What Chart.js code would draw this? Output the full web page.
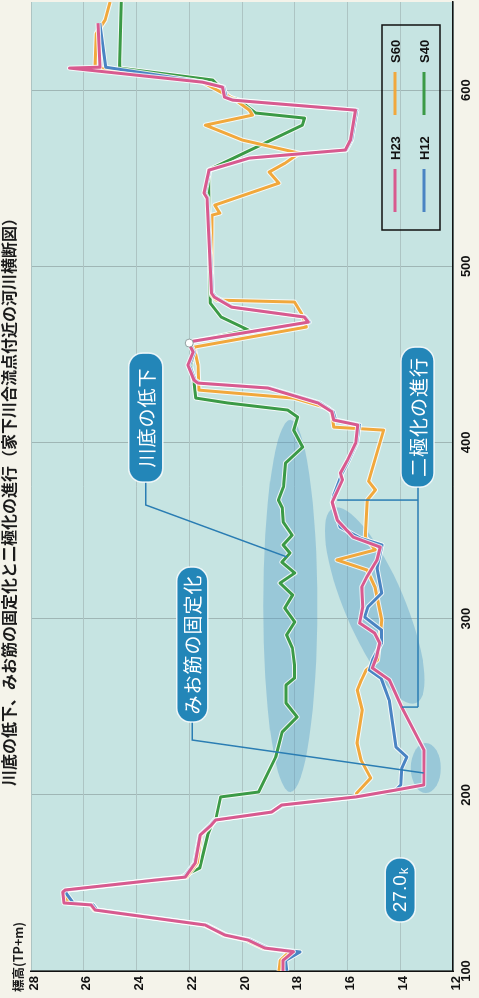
<!DOCTYPE html>
<html lang="ja">
<head>
<meta charset="utf-8">
<title>河川横断図</title>
<script src="https://cdn.jsdelivr.net/npm/chart.js@4.4.1/dist/chart.umd.min.js"></script>
<style>
  html, body { margin: 0; padding: 0; background: #f4f3ea; overflow: hidden; }
  body { width: 479px; height: 998px; position: relative; }
  /* the section is laid out landscape and turned a quarter turn to sit in the portrait page */
  #frame {
    position: absolute; left: 0; top: 0;
    width: 998px; height: 479px;
    transform-origin: 0 0;
    transform: translate(0, 998px) rotate(-90deg);
  }
</style>
</head>
<body>
<div id="frame"><canvas id="section-chart" width="998" height="479"></canvas></div>
<script>
const TITLE = '川底の低下、みお筋の固定化と二極化の進行（家下川合流点付近の河川横断図）';
const Y_LABEL = '標高(TP+m)';

const DIST_TICKS = [100, 200, 300, 400, 500, 600];
const ELEV_TICKS = [12, 14, 16, 18, 20, 22, 24, 26, 28];

// distance from left bank (m) / bed elevation (TP+m)
const h23Dist = [100, 106, 111, 113, 117.6, 120.4, 124.4, 126.1, 134.6, 137.5, 138.6, 144.8, 146, 151.6, 153.3, 161.3, 177.2, 182.9, 185.7, 190.2, 194.2, 198.8, 202.7, 205.6, 225.4, 249.3, 265.2, 272, 278.2, 286.2, 291.8, 297.5, 306.6, 318, 323.6, 333.3, 340.6, 346.3, 356, 366, 378.7, 382.6, 390, 399.7, 409.9, 412.7, 417.5, 422.4, 430.9, 433.7, 435.4, 443.9, 451.3, 457, 468.3, 471.2, 476.8, 482.5, 484.8, 538.7, 541.5, 554.6, 561.4, 566, 571.6, 588.6, 594.3, 596, 601.7, 604.5, 612.5, 613, 638];
const h23Elev = [18.45, 18.45, 18.05, 19.13, 19.78, 20.65, 21.18, 21.4, 25.57, 25.72, 26.75, 26.8, 26.7, 23.29, 22.15, 21.77, 21.58, 21.16, 21.0, 18.88, 18.5, 15.69, 14.17, 13.11, 13.1, 13.93, 14.41, 15.06, 14.9, 14.78, 14.97, 15.54, 15.42, 15.46, 15.27, 14.88, 14.76, 15.79, 16.39, 16.58, 16.19, 16.27, 16.0, 15.69, 15.61, 16.52, 16.6, 17.12, 19.02, 21.67, 21.82, 22.05, 21.85, 22.04, 17.49, 17.64, 20.4, 21.05, 21.16, 21.33, 21.44, 21.25, 19.73, 16.08, 15.89, 15.7, 20.36, 20.66, 20.74, 21.5, 26.54, 25.38, 25.46];

const h12Dist = [100, 106, 110.8, 113, 117.6, 120.4, 124.4, 126.1, 134.6, 137.5, 138.6, 144.8, 146, 151.6, 153.3, 161.3, 177.2, 182.9, 185.7, 190.2, 194.2, 198.8, 202.7, 205.6, 215.2, 221.5, 227.1, 253.8, 266, 270.8, 276.5, 286.2, 293.5, 300.9, 306.6, 314.5, 328.7, 341.8, 345.7, 352, 366, 371, 382.6, 390, 399.7, 409.9, 412.7, 417.5, 422.4, 430.9, 433.7, 435.4, 443.9, 451.3, 457, 468.3, 471.2, 476.8, 482.5, 484.8, 538.7, 541.5, 554.6, 561.4, 566, 571.6, 588.6, 594.3, 596, 601.7, 604.5, 613, 638];
const h12Elev = [18.3, 18.35, 17.8, 19.05, 19.7, 20.6, 21.15, 21.35, 25.5, 25.65, 26.4, 26.7, 26.6, 23.35, 22.2, 21.8, 21.6, 21.2, 21.05, 18.9, 18.45, 15.65, 14.17, 13.98, 13.94, 13.75, 14.16, 14.42, 14.72, 15.17, 15.05, 14.71, 14.71, 15.35, 15.23, 14.7, 14.88, 14.69, 15.52, 16.28, 16.58, 16.5, 16.2, 15.95, 15.65, 15.55, 16.45, 16.55, 17.05, 18.95, 21.6, 21.78, 22.0, 21.8, 22.0, 17.45, 17.6, 20.35, 21.0, 21.12, 21.3, 21.4, 21.22, 19.7, 16.05, 15.85, 15.65, 20.3, 20.6, 20.7, 21.45, 25.17, 25.39];

const s60Dist = [100, 106, 111, 113, 117.6, 120.4, 124.4, 126.1, 134.6, 137.5, 138.6, 144.8, 146, 151.6, 153.3, 161.3, 177.2, 182.9, 185.7, 190.2, 194.2, 198.8, 201, 209.5, 219.7, 229.4, 248.1, 259.5, 265.2, 270.8, 276.5, 287.9, 299.2, 318, 327.6, 333.3, 339, 346.3, 367.3, 373, 378, 407, 408.7, 417, 419.5, 425.2, 429.7, 443.9, 454.1, 465.5, 473.4, 479.7, 480.8, 483.7, 529, 530.2, 534.7, 547.2, 553.5, 558.6, 564.2, 571.6, 580.1, 585.8, 588.6, 594.3, 604.5, 613, 632, 639.7, 650];
const s60Elev = [18.6, 18.55, 18.2, 19.2, 19.85, 20.7, 21.2, 21.45, 25.6, 25.75, 26.6, 26.7, 26.6, 23.2, 22.1, 21.7, 21.55, 21.15, 21.0, 18.85, 18.5, 15.69, 15.65, 15.12, 15.49, 15.64, 15.44, 15.63, 15.47, 15.29, 14.86, 14.78, 14.7, 14.96, 15.26, 16.4, 14.95, 15.33, 15.25, 14.94, 15.2, 14.63, 16.52, 16.6, 16.74, 18.04, 21.63, 21.67, 21.82, 17.56, 17.75, 18.01, 20.97, 21.16, 21.14, 20.84, 21.03, 18.6, 18.97, 18.36, 17.83, 19.98, 21.39, 19.6, 19.72, 20.24, 21.5, 25.57, 25.53, 25.19, 25.0];

const s40Dist = [100, 106, 111, 113, 117.6, 120.4, 124.4, 126.1, 134.6, 137.5, 138.6, 144.8, 146, 151.6, 153.3, 158.5, 177.2, 182.9, 185.7, 198.8, 201.6, 221.5, 235.6, 244.2, 252.1, 262.3, 266.3, 273.7, 283.3, 290.7, 298.1, 306, 313.4, 320.2, 325.9, 332.1, 337.2, 341.8, 347.4, 354.8, 362.8, 367.3, 374.7, 388.3, 397.4, 407, 414.4, 418.4, 422.4, 425.2, 434.3, 443.9, 451.3, 457, 463.8, 471.2, 479, 554.6, 580.1, 584.1, 587, 594.3, 596, 605.7, 612.5, 650];
const s40Elev = [18.5, 18.5, 18.1, 19.1, 19.75, 20.6, 21.1, 21.35, 25.5, 25.65, 26.6, 26.7, 26.6, 23.4, 22.3, 21.6, 21.3, 21.15, 21.0, 20.81, 19.37, 18.72, 18.48, 17.91, 18.33, 18.33, 18.01, 18.01, 18.09, 18.31, 18.0, 18.38, 18.08, 18.56, 18.0, 18.49, 18.18, 18.44, 18.1, 18.44, 18.47, 18.62, 18.43, 18.35, 17.7, 18.04, 17.89, 18.27, 20.54, 21.75, 21.82, 21.95, 21.8, 21.95, 19.76, 20.79, 21.2, 21.27, 17.71, 17.63, 19.49, 20.1, 20.47, 21.11, 24.64, 24.58];

const SERIES = [
  { label: 'H23', dist: h23Dist, elev: h23Elev, color: '#d85a8f' },
  { label: 'H12', dist: h12Dist, elev: h12Elev, color: '#4a84c3' },
  { label: 'S60', dist: s60Dist, elev: s60Elev, color: '#f1a83c' },
  { label: 'S40', dist: s40Dist, elev: s40Elev, color: '#3b9a46' },
];

// legend cells: column, row
const LEGEND_CELLS = [
  { label: 'H23', col: 0, row: 0 },
  { label: 'S60', col: 1, row: 0 },
  { label: 'H12', col: 0, row: 1 },
  { label: 'S40', col: 1, row: 1 },
];

// callout boxes, anchored in (distance, elevation)
const CALLOUTS = [
  { text: '川底の低下', at: [414.1, 23.65], w: 129, h: 34 },
  { text: 'みお筋の固定化', at: [285.3, 21.89], w: 155, h: 31 },
  { text: '二極化の進行', at: [414.4, 13.35], w: 140, h: 33 },
  { text: '27.0', sub: 'k', at: [146, 14.0], w: 64, h: 30 },
];

const LEADERS = [
  [[377.5, 23.65], [364.5, 23.65], [335, 18.29]],
  [[241.3, 21.89], [231.1, 21.89], [212.4, 13.11]],
  [[377.5, 13.33], [249.8, 13.33]],
  [[367.3, 13.33], [367.3, 16.39]],
  [[249.8, 13.33], [249.8, 13.93]],
];

// survey mark on the left terrace
const MARK = [456.4, 22.0];

// shaded zones: major axis ends in data units, half minor axis in px
const ZONES = [
  { from: [412.8, 18.17], to: [201.6, 18.17], half: 27 },
  { from: [362.8, 16.54], to: [252.1, 13.4], half: 30 },
  { from: [229.4, 13.03], to: [201, 13.03], half: 15 },
];

const PLOT_BG = '#c6e4e2';
const NOTE_BLUE = '#2386b8';
const CJK = '"Noto Sans CJK JP", "Noto Sans", sans-serif';

Chart.defaults.font.family = '"Liberation Sans", Arial, sans-serif';
Chart.defaults.color = '#111';

function toPx(chart, d, e) {
  return [chart.scales.x.getPixelForValue(d), chart.scales.y.getPixelForValue(e)];
}

function clipToArea(chart) {
  const a = chart.chartArea;
  chart.ctx.beginPath();
  chart.ctx.rect(a.left, a.top, a.right - a.left, a.bottom - a.top);
  chart.ctx.clip();
}

const backdropPlugin = {
  id: 'backdrop',
  beforeDraw(chart) {
    const { ctx, chartArea: a } = chart;
    ctx.save();
    ctx.fillStyle = PLOT_BG;
    ctx.fillRect(a.left, a.top, a.right - a.left, a.bottom - a.top);

    ctx.fillStyle = '#1b1b1b';
    ctx.textBaseline = 'middle';
    ctx.textAlign = 'center';
    ctx.font = 'bold 16px ' + CJK;
    ctx.fillText(TITLE, 500, 9);
    ctx.textAlign = 'left';
    ctx.font = 'bold 12.5px ' + CJK;
    ctx.fillText(Y_LABEL, 6, 18);
    ctx.restore();
  },
  beforeDatasetsDraw(chart) {
    const ctx = chart.ctx;
    ctx.save();
    clipToArea(chart);
    ctx.fillStyle = 'rgba(74, 150, 200, 0.36)';
    ZONES.forEach((z) => {
      const [x1, y1] = toPx(chart, z.from[0], z.from[1]);
      const [x2, y2] = toPx(chart, z.to[0], z.to[1]);
      const rx = Math.hypot(x2 - x1, y2 - y1) / 2;
      ctx.beginPath();
      ctx.ellipse((x1 + x2) / 2, (y1 + y2) / 2, rx, z.half, Math.atan2(y2 - y1, x2 - x1), 0, Math.PI * 2);
      ctx.fill();
    });
    ctx.restore();
  },
};

// thin white casing under every section line
const casingPlugin = {
  id: 'casing',
  beforeDatasetDraw(chart, args) {
    const ctx = chart.ctx;
    const pts = args.meta.data;
    ctx.save();
    clipToArea(chart);
    ctx.strokeStyle = 'rgba(255, 255, 255, 0.8)';
    ctx.lineWidth = 5;
    ctx.lineJoin = 'round';
    ctx.beginPath();
    pts.forEach((p, i) => (i ? ctx.lineTo(p.x, p.y) : ctx.moveTo(p.x, p.y)));
    ctx.stroke();
    ctx.restore();
  },
};

function drawPill(ctx, x, y, w, h) {
  ctx.beginPath();
  ctx.roundRect(x - w / 2, y - h / 2, w, h, Math.min(14, h / 2));
  ctx.fillStyle = NOTE_BLUE;
  ctx.fill();
  ctx.lineWidth = 1.5;
  ctx.strokeStyle = 'rgba(255, 255, 255, 0.85)';
  ctx.stroke();
}

const notesPlugin = {
  id: 'notes',
  afterDatasetsDraw(chart) {
    const ctx = chart.ctx;
    const a = chart.chartArea;
    ctx.save();

    const [mx, my] = toPx(chart, MARK[0], MARK[1]);
    ctx.beginPath();
    ctx.arc(mx, my, 4, 0, Math.PI * 2);
    ctx.fillStyle = '#fff';
    ctx.fill();
    ctx.lineWidth = 0.8;
    ctx.strokeStyle = '#7a8a8a';
    ctx.stroke();

    ctx.strokeStyle = '#2a7db3';
    ctx.lineWidth = 1.5;
    LEADERS.forEach((path) => {
      ctx.beginPath();
      path.forEach(([d, e], i) => {
        const [x, y] = toPx(chart, d, e);
        i ? ctx.lineTo(x, y) : ctx.moveTo(x, y);
      });
      ctx.stroke();
    });

    CALLOUTS.forEach((c) => {
      const [x, y] = toPx(chart, c.at[0], c.at[1]);
      drawPill(ctx, x, y, c.w, c.h);
      ctx.fillStyle = '#fff';
      ctx.textBaseline = 'middle';
      if (c.sub) {
        ctx.font = '19px "Liberation Sans", Arial, sans-serif';
        const main = ctx.measureText(c.text).width;
        ctx.font = '13px "Liberation Sans", Arial, sans-serif';
        const small = ctx.measureText(c.sub).width;
        const left = x - (main + small + 1) / 2;
        ctx.textAlign = 'left';
        ctx.font = '19px "Liberation Sans", Arial, sans-serif';
        ctx.fillText(c.text, left, y + 1);
        ctx.font = '13px "Liberation Sans", Arial, sans-serif';
        ctx.fillText(c.sub, left + main + 1, y + 4);
      } else {
        ctx.textAlign = 'center';
        ctx.font = '19px ' + CJK;
        ctx.letterSpacing = '1px';
        ctx.fillText(c.text, x, y + 1);
        ctx.letterSpacing = '0px';
      }
    });

    // legend frame sits in the lower right of the plot
    const lw = 205, lh = 58;
    const lx = a.right - 23 - lw, ly = a.bottom - 13 - lh;
    ctx.lineWidth = 1.5;
    ctx.strokeStyle = '#111';
    ctx.strokeRect(lx, ly, lw, lh);
    ctx.font = 'bold 13px "Liberation Sans", Arial, sans-serif';
    ctx.textAlign = 'left';
    ctx.textBaseline = 'middle';
    LEGEND_CELLS.forEach((cell) => {
      const s = SERIES.find((v) => v.label === cell.label);
      const x0 = lx + 18 + cell.col * 97;
      const y0 = ly + 13 + cell.row * 29;
      ctx.strokeStyle = s.color;
      ctx.lineWidth = 3;
      ctx.beginPath();
      ctx.moveTo(x0, y0);
      ctx.lineTo(x0 + 43, y0);
      ctx.stroke();
      ctx.fillStyle = '#111';
      ctx.fillText(s.label, x0 + 52, y0 + 1);
    });

    ctx.restore();
  },
};

new Chart(document.getElementById('section-chart'), {
  type: 'scatter',
  data: {
    datasets: SERIES.map((s) => ({
      label: s.label,
      data: s.dist.map((d, i) => ({ x: d, y: s.elev[i] })),
      showLine: true,
      borderColor: s.color,
      backgroundColor: s.color,
      borderWidth: 3,
      borderJoinStyle: 'round',
      pointRadius: 0,
      tension: 0,
    })),
  },
  options: {
    responsive: false,
    animation: false,
    events: [],
    layout: { padding: { left: 0, right: 2, top: 31, bottom: 0 } },
    plugins: { legend: { display: false }, title: { display: false }, tooltip: { enabled: false } },
    scales: {
      x: {
        type: 'linear',
        min: 100,
        max: 650,
        afterBuildTicks: (scale) => { scale.ticks = DIST_TICKS.map((v) => ({ value: v })); },
        afterFit: (scale) => { scale.height = 26; },
        grid: { color: '#9fb6b5', lineWidth: 1, drawTicks: false },
        border: { display: true, color: '#111', width: 1.5 },
        ticks: { padding: 6, font: { size: 13, weight: 'bold' }, color: '#111' },
      },
      y: {
        type: 'linear',
        min: 12,
        max: 28,
        afterBuildTicks: (scale) => { scale.ticks = ELEV_TICKS.map((v) => ({ value: v })); },
        afterFit: (scale) => { scale.width = 27; },
        grid: { color: '#adc4c3', lineWidth: 1, drawTicks: false },
        border: { display: true, color: '#111', width: 1.5 },
        ticks: { padding: 5, labelOffset: 3, font: { size: 13, weight: 'bold' }, color: '#111' },
      },
    },
  },
  plugins: [backdropPlugin, casingPlugin, notesPlugin],
});
</script>
</body>
</html>
